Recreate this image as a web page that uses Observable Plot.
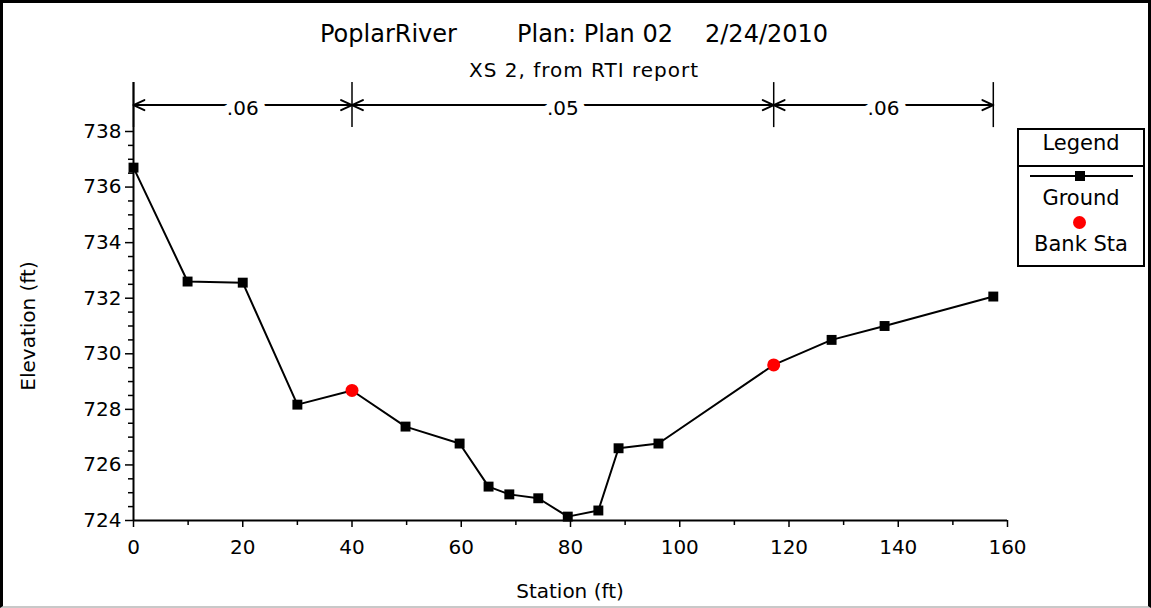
<!DOCTYPE html>
<html>
<head>
<meta charset="utf-8">
<script src="https://cdn.jsdelivr.net/npm/d3@7"></script>
<script src="https://cdn.jsdelivr.net/npm/@observablehq/plot@0.6"></script>
<style>
  html, body { margin: 0; padding: 0; background: #fff; }
  #wrap { position: relative; width: 1151px; height: 608px; overflow: hidden; font-family: "DejaVu Sans", sans-serif; color: #000; background: #fff; }
  #frame { position: absolute; left: 0; top: 0; width: 1151px; height: 608px; box-sizing: border-box;
           border-left: 3px solid #000; border-top: 3px solid #000; border-right: 3px solid #000; border-bottom: 2px solid #c8c8c8; pointer-events: none; }
  .t { position: absolute; white-space: pre; line-height: 1; }
  #legend { position: absolute; left: 1017px; top: 128px; width: 128px; height: 139px; box-sizing: border-box; border: 2px solid #000; background: #fff; }
  #legend .hdr { position: absolute; left: 0; top: 0; width: 124px; height: 35px; border-bottom: 2px solid #000; }
</style>
</head>
<body>
<div id="wrap">
  <div id="chart"></div>
  <div class="t" style="left:320px; top:22px; font-size:24px;">PoplarRiver</div>
  <div class="t" style="left:517px; top:22px; font-size:24px;">Plan: Plan 02</div>
  <div class="t" style="left:705px; top:22px; font-size:24px;">2/24/2010</div>
  <div class="t" style="left:384px; width:400px; text-align:center; top:60px; font-size:20px; letter-spacing:1px;">XS 2, from RTI report</div>
  <div class="t" style="left:470px; width:200px; text-align:center; top:581px; font-size:20px;">Station (ft)</div>
  <div class="t" style="left:-72px; width:200px; text-align:center; top:316px; font-size:20px; transform: rotate(-90deg);">Elevation (ft)</div>
  <div id="legend">
    <div class="hdr"></div>
  </div>
  <div class="t" style="left:1017px; width:128px; text-align:center; top:133px; font-size:21px;">Legend</div>
  <div style="position:absolute; left:1030px; top:175px; width:103px; height:2px; background:#000;"></div>
  <div style="position:absolute; left:1075px; top:171px; width:10px; height:10px; background:#000;"></div>
  <div class="t" style="left:1017px; width:128px; text-align:center; top:188px; font-size:21px;">Ground</div>
  <div style="position:absolute; left:1073px; top:216px; width:13px; height:13px; border-radius:50%; background:#ff0000;"></div>
  <div class="t" style="left:1017px; width:128px; text-align:center; top:234px; font-size:21px;">Bank Sta</div>
  <div id="frame"></div>
</div>
<script>
// ---- data ----
const stations   = [0, 9.9, 20, 30, 40, 49.8, 59.7, 65, 68.8, 74.1, 79.5, 85.1, 88.8, 96.1, 117.2, 127.8, 137.5, 157.4];
const elevations = [736.7, 732.6, 732.56, 728.17, 728.68, 727.38, 726.77, 725.22, 724.94, 724.8, 724.14, 724.36, 726.6, 726.77, 729.6, 730.5, 731.0, 732.06];
const bankStations   = [40, 117.2];
const bankElevations = [728.68, 729.6];
const nBreaks = [0, 40, 117.2, 157.4];
const nValues = [".06", ".05", ".06"];
const xTicks = [0, 20, 40, 60, 80, 100, 120, 140, 160];
const xMinorTicks = [10, 30, 50, 70, 90, 110, 130, 150];
const yTicks = [724, 726, 728, 730, 732, 734, 736, 738];
const yMinorTicks = d3.range(724, 738.01, 0.5).filter(v => v % 2 !== 0);

// ---- derived tables ----
const ground = stations.map((s, i) => ({station: s, elev: elevations[i]}));
const groundSquares = ground.filter(d => !bankStations.includes(d.station));
const banks = bankStations.map((s, i) => ({station: s, elev: bankElevations[i]}));
const segs = nValues.map((v, i) => ({a: nBreaks[i], b: nBreaks[i + 1], mid: (nBreaks[i] + nBreaks[i + 1]) / 2, n: v}));
const arrows = segs.flatMap(s => [{x1: s.mid, x2: s.a}, {x1: s.mid, x2: s.b}]);

const yArrow = 738.95, yBarLo = 738.14, yBarHi = 739.76;

const chart = Plot.plot({
  width: 1151,
  height: 608,
  marginLeft: 133,
  marginRight: 144,
  marginTop: 131,
  marginBottom: 88,
  x: {domain: [0, 160]},
  y: {domain: [724, 738]},
  style: {fontFamily: "DejaVu Sans", fontSize: "20px", color: "#000", background: "transparent", overflow: "visible"},
  marks: [
    Plot.axisX({ticks: xMinorTicks, tickSize: 5, tickFormat: () => "", label: null, strokeWidth: 1.5}),
    Plot.axisX({ticks: xTicks, tickSize: 7, tickPadding: 12, label: null, strokeWidth: 1.5, fontSize: 20}),
    Plot.axisY({ticks: yMinorTicks, tickSize: 5, tickFormat: () => "", label: null, strokeWidth: 1.5}),
    Plot.axisY({ticks: yTicks, tickSize: 8, tickPadding: 4, label: null, strokeWidth: 1.5, fontSize: 20}),
    Plot.ruleY([724], {x1: 0, x2: 160, stroke: "#000", strokeWidth: 2}),
    Plot.ruleX([0], {y1: 724, y2: yBarHi, stroke: "#000", strokeWidth: 2}),
    Plot.ruleX(nBreaks, {y1: yBarLo, y2: yBarHi, stroke: "#000", strokeWidth: 1.5}),
    Plot.arrow(arrows, {x1: "x1", x2: "x2", y1: () => yArrow, y2: () => yArrow, bend: 0, headLength: 9, headAngle: 50, stroke: "#000", strokeWidth: 2, insetStart: 0, insetEnd: 0}),
    Plot.text(segs, {x: "mid", y: () => yArrow, text: "n", fill: "#000", stroke: "#fff", strokeWidth: 16, fontSize: 20, dy: 3}),
    Plot.line(ground, {x: "station", y: "elev", stroke: "#000", strokeWidth: 2}),
    Plot.dot(groundSquares, {x: "station", y: "elev", symbol: "square", r: 5.6, fill: "#000", stroke: "none"}),
    Plot.dot(banks, {x: "station", y: "elev", symbol: "circle", r: 6.5, fill: "#ff0000", stroke: "none"})
  ]
});
document.getElementById("chart").appendChild(chart);
</script>
</body>
</html>
